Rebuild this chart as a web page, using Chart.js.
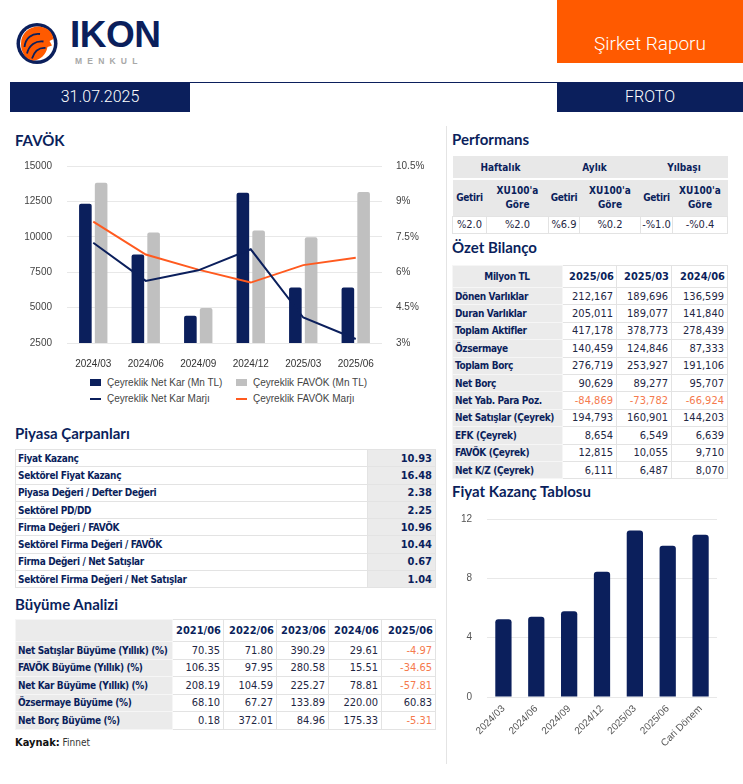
<!DOCTYPE html>
<html lang="tr">
<head>
<meta charset="utf-8">
<title>FROTO Şirket Raporu</title>
<script src="https://cdn.jsdelivr.net/npm/chart.js@4.4.1/dist/chart.umd.min.js"></script>
<style>
  html, body { margin: 0; padding: 0; background: #fff; }
  #page { position: relative; width: 743px; height: 784px; overflow: hidden; background: #fff; }
  .abs { position: absolute; }
  .navy { background: #0b1f5c; color: #fff; }
  .h-title { font-family: Lato, "Open Sans", sans-serif; font-weight: 700; font-size: 15px; color: #0b1f5c; }
  .box-text { font-family: Roboto, sans-serif; font-weight: 300; text-align: center; }
  table.t { position: absolute; border-collapse: collapse; table-layout: fixed;
            font-family: "DejaVu Sans Condensed", sans-serif; font-size: 11px; color: #0b1f5c; }
  table.t td { padding: 0 3px; white-space: nowrap; overflow: hidden; border: 1px solid #e3e3e3; }
  table.t td.lab { font-weight: 700; font-size: 10px; letter-spacing: -0.35px; padding-left: 2px; background: #ebebeb; border-color: #f6f6f6; }
  table.t td.num { text-align: right; color: #1f2744; }
  table.t td.neg { color: #f57a4d; }
  table.t td.hd { font-weight: 700; text-align: center; font-size: 10px; }
  table.t td.yr { font-weight: 700; text-align: right; font-size: 11px; padding-right: 2px; }
  .leg { position: absolute; font-family: "Liberation Sans", Arial, sans-serif; font-size: 10px; color: #444; white-space: nowrap; }
  .leg i { position: absolute; left: 0; }
</style>
</head>
<body>
<div id="page">
  <!-- logo -->
  <svg class="abs" style="left:14px;top:20px" width="48" height="48" viewBox="0 0 48 48">
    <circle cx="23" cy="23.5" r="20.5" fill="#0b1f5c"/>
    <circle cx="23" cy="23.5" r="17" fill="#fff"/>
    <path d="M7 24 C7 13 15 6.5 25 6.5 C33 7 38.5 12 39.5 19 L35.5 21 L38 25.5 L33.5 27 C32 35 26 40.5 19 40.5 C11 39 7 32 7 24 Z" fill="#ff5a00"/>
    <path d="M10.5 27 C11.5 18 18 13 26 14 M13 33.5 C15 25 21.5 20.5 29.5 21.5 M18 38.5 C20.5 31 25 27.5 31.5 28" stroke="#0b1f5c" stroke-width="1.8" fill="none"/>
  </svg>
  <div class="abs" style="left:70px;top:14px;font-family:'Liberation Sans',Arial,sans-serif;font-weight:700;font-size:37px;color:#0b1f5c;letter-spacing:-0.5px">IKON</div>
  <div class="abs" style="left:75px;top:56px;font-family:'Liberation Sans',Arial,sans-serif;font-weight:700;font-size:8.5px;color:#a8a8a8;letter-spacing:5.2px">MENKUL</div>

  <div class="abs" style="left:557px;top:0;width:186px;height:63px;background:#ff5a00"></div>
  <div class="abs box-text" style="left:557px;top:32px;width:186px;font-size:19px;color:#fff">Şirket Raporu</div>

  <div class="abs" style="left:10px;top:82px;width:733px;height:1px;background:#0b1f5c"></div>
  <div class="abs navy" style="left:10px;top:83px;width:180px;height:29px"></div>
  <div class="abs box-text" style="left:10px;top:87px;width:180px;font-size:16px;color:#fff">31.07.2025</div>
  <div class="abs navy" style="left:557px;top:83px;width:186px;height:29px"></div>
  <div class="abs box-text" style="left:557px;top:87px;width:186px;font-size:16px;color:#fff">FROTO</div>

  <div class="abs" style="left:446px;top:126px;width:1px;height:638px;background:#e4e4e4"></div>

  <div class="abs h-title" style="left:15px;top:131px">FAVÖK</div>
  <div class="abs" style="left:0;top:150px;width:440px;height:225px"><canvas id="favokChart"></canvas></div>
  <div id="favokLegend"></div>

  <div class="abs h-title" style="left:15px;top:424px">Piyasa Çarpanları</div>
  <table class="t" id="carpanTable" style="left:15px;top:449px;width:420px"></table>

  <div class="abs h-title" style="left:15px;top:595px">Büyüme Analizi</div>
  <table class="t" id="buyumeTable" style="left:15px;top:619px;width:420px"></table>
  <div class="abs" style="left:15px;top:736px;font-family:'DejaVu Sans Condensed',sans-serif;font-size:10px;color:#111"><b style="font-size:11px">Kaynak:</b> <span style="color:#333">Finnet</span></div>

  <div class="abs h-title" style="left:452px;top:130px">Performans</div>
  <table class="t" id="perfTable" style="left:452px;top:156px;width:275px"></table>

  <div class="abs h-title" style="left:452px;top:238px">Özet Bilanço</div>
  <table class="t" id="bilancoTable" style="left:452px;top:265px;width:275px"></table>

  <div class="abs h-title" style="left:452px;top:482px">Fiyat Kazanç Tablosu</div>
  <div class="abs" style="left:440px;top:505px;width:303px;height:265px"><canvas id="fkChart"></canvas></div>
</div>

<script>
// FAVÖK grafiği
const favokLabels = ['2024/03', '2024/06', '2024/09', '2024/12', '2025/03', '2025/06'];
const netKar = [12340, 8750, 4420, 13110, 6420, 6420];
const favok = [13820, 10300, 4970, 10440, 9970, 13160];
const netKarMarji = [7.25, 5.63, 6.08, 6.97, 4.08, 3.17];
const favokMarji = [8.14, 6.75, 6.11, 5.56, 6.30, 6.61];

// Fiyat Kazanç grafiği
const fkLabels = ['2024/03', '2024/06', '2024/09', '2024/12', '2025/03', '2025/06', 'Cari Dönem'];
const fkValues = [5.24, 5.41, 5.78, 8.44, 11.23, 10.20, 10.93];

// Tablolar
const perfGroups = ['Haftalık', 'Aylık', 'Yılbaşı'];
const perfValues = ['%2.0', '%2.0', '%6.9', '%0.2', '-%1.0', '-%0.4'];

const carpanLabels = ['Fiyat Kazanç', 'Sektörel Fiyat Kazanç', 'Piyasa Değeri / Defter Değeri', 'Sektörel PD/DD',
  'Firma Değeri / FAVÖK', 'Sektörel Firma Değeri / FAVÖK', 'Firma Değeri / Net Satışlar', 'Sektörel Firma Değeri / Net Satışlar'];
const carpanValues = ['10.93', '16.48', '2.38', '2.25', '10.96', '10.44', '0.67', '1.04'];

const bilancoYears = ['2025/06', '2025/03', '2024/06'];
const bilancoLabels = ['Dönen Varlıklar', 'Duran Varlıklar', 'Toplam Aktifler', 'Özsermaye', 'Toplam Borç', 'Net Borç',
  'Net Yab. Para Poz.', 'Net Satışlar (Çeyrek)', 'EFK (Çeyrek)', 'FAVÖK (Çeyrek)', 'Net K/Z (Çeyrek)'];
const bilanco2506 = ['212,167', '205,011', '417,178', '140,459', '276,719', '90,629', '-84,869', '194,793', '8,654', '12,815', '6,111'];
const bilanco2503 = ['189,696', '189,077', '378,773', '124,846', '253,927', '89,277', '-73,782', '160,901', '6,549', '10,055', '6,487'];
const bilanco2406 = ['136,599', '141,840', '278,439', '87,333', '191,106', '95,707', '-66,924', '144,203', '6,639', '9,710', '8,070'];

const buyumeYears = ['2021/06', '2022/06', '2023/06', '2024/06', '2025/06'];
const buyumeLabels = ['Net Satışlar Büyüme (Yıllık) (%)', 'FAVÖK Büyüme (Yıllık) (%)', 'Net Kar Büyüme (Yıllık) (%)',
  'Özsermaye Büyüme (%)', 'Net Borç Büyüme (%)'];
const buyume2021 = ['70.35', '106.35', '208.19', '68.10', '0.18'];
const buyume2022 = ['71.80', '97.95', '104.59', '67.27', '372.01'];
const buyume2023 = ['390.29', '280.58', '225.27', '133.89', '84.96'];
const buyume2024 = ['29.61', '15.51', '78.81', '220.00', '175.33'];
const buyume2025 = ['-4.97', '-34.65', '-57.81', '60.83', '-5.31'];

const NAVY = '#0b1f5c';
const GRAY = '#c0c0c0';
const ORANGE = '#ff5a1f';

function numCell(v) {
    return '<td class="num' + (v.charAt(0) === '-' ? ' neg' : '') + '">' + v + '</td>';
}
function colgroup(widths) {
    return '<colgroup>' + widths.map(w => '<col style="width:' + w + 'px">').join('') + '</colgroup>';
}

// Performans
(function () {
    let h = colgroup([34, 62, 31, 61, 32, 55]);
    h += '<tr style="height:23px">' + perfGroups.map(g =>
        '<td class="hd" colspan="2" style="background:#e8e8e8;border:0;border-bottom:2px solid #fff">' + g + '</td>').join('') + '</tr>';
    h += '<tr style="height:37px">';
    for (let i = 0; i < 3; i++) {
        h += '<td class="hd" style="background:#e8e8e8;border:0;padding:0;letter-spacing:-0.3px">Getiri</td>';
        h += '<td class="hd" style="background:#e8e8e8;border:0;line-height:14px">XU100\'a<br>Göre</td>';
    }
    h += '</tr><tr style="height:17px">' + perfValues.map(v =>
        '<td style="text-align:center;color:#1f2744;padding:0">' + v + '</td>').join('') + '</tr>';
    document.getElementById('perfTable').innerHTML = h;
})();

// Özet Bilanço
(function () {
    let h = colgroup([110, 54, 55, 56]);
    h += '<tr style="height:22px"><td class="lab" style="text-align:center">Milyon TL</td>' +
        bilancoYears.map(y => '<td class="yr">' + y + '</td>').join('') + '</tr>';
    bilancoLabels.forEach((l, i) => {
        h += '<tr style="height:17.4px"><td class="lab">' + l + '</td>' +
            numCell(bilanco2506[i]) + numCell(bilanco2503[i]) + numCell(bilanco2406[i]) + '</tr>';
    });
    document.getElementById('bilancoTable').innerHTML = h;
})();

// Piyasa Çarpanları
(function () {
    let h = colgroup([352, 68]);
    carpanLabels.forEach((l, i) => {
        h += '<tr style="height:17.3px"><td class="lab" style="background:#fff;border-color:#e3e3e3">' + l + '</td>' +
            '<td class="num" style="font-weight:700;background:#ebebeb;color:#0b1f5c">' + carpanValues[i] + '</td></tr>';
    });
    document.getElementById('carpanTable').innerHTML = h;
})();

// Büyüme Analizi
(function () {
    let h = colgroup([157, 51, 53, 52, 53, 54]);
    h += '<tr style="height:22px"><td class="lab"></td>' +
        buyumeYears.map(y => '<td class="yr">' + y + '</td>').join('') + '</tr>';
    buyumeLabels.forEach((l, i) => {
        h += '<tr style="height:17.5px"><td class="lab">' + l + '</td>' + numCell(buyume2021[i]) + numCell(buyume2022[i]) +
            numCell(buyume2023[i]) + numCell(buyume2024[i]) + numCell(buyume2025[i]) + '</tr>';
    });
    document.getElementById('buyumeTable').innerHTML = h;
})();

const tickFont = { family: "'Liberation Sans', Arial, sans-serif", size: 10 };

document.addEventListener('DOMContentLoaded', function () {
    const favokChart = new Chart(document.getElementById('favokChart'), {
        type: 'bar',
        data: {
            labels: favokLabels,
            datasets: [
                { label: 'Çeyreklik Net Kar (Mn TL)', data: netKar, backgroundColor: NAVY, yAxisID: 'y', order: 1,
                  barPercentage: 0.8, categoryPercentage: 0.6, borderRadius: 2 },
                { label: 'Çeyreklik FAVÖK (Mn TL)', data: favok, backgroundColor: GRAY, yAxisID: 'y', order: 1,
                  barPercentage: 0.8, categoryPercentage: 0.6, borderRadius: 2 },
                { type: 'line', label: 'Çeyreklik Net Kar Marjı', data: netKarMarji, borderColor: NAVY, backgroundColor: NAVY,
                  borderWidth: 2, pointRadius: 0, yAxisID: 'y1', order: 0 },
                { type: 'line', label: 'Çeyreklik FAVÖK Marjı', data: favokMarji, borderColor: ORANGE, backgroundColor: ORANGE,
                  borderWidth: 2, pointRadius: 0, yAxisID: 'y1', order: 0 }
            ]
        },
        options: {
            responsive: true,
            maintainAspectRatio: false,
            animation: false,
            layout: { padding: { top: 16, bottom: 0, left: 0, right: 0 } },
            plugins: { legend: { display: false }, tooltip: { enabled: false } },
            scales: {
                x: {
                    grid: { display: false, drawTicks: false },
                    border: { display: false },
                    ticks: { font: tickFont, color: '#333', padding: 15 },
                    afterFit: function (s) { s.height = 32; }
                },
                y: {
                    position: 'left', min: 2500, max: 15000,
                    grid: { color: '#e8e8e8', drawTicks: true, tickLength: 12, tickColor: 'rgba(0,0,0,0)' },
                    border: { display: false },
                    ticks: { stepSize: 2500, font: tickFont, color: '#444', padding: 3,
                             callback: function (v) { return String(v); } },
                    afterFit: function (s) { s.width = 67; }
                },
                y1: {
                    position: 'right', min: 3, max: 10.5,
                    grid: { display: false, drawTicks: true, tickLength: 11, tickColor: 'rgba(0,0,0,0)' },
                    border: { display: false },
                    ticks: { stepSize: 1.5, font: tickFont, color: '#444', padding: 3,
                             callback: function (v) { return v + '%'; } },
                    afterFit: function (s) { s.width = 58; }
                }
            }
        }
    });

    // HTML legend, 2 columns
    const legPos = [[90, 377], [236, 377], [90, 393], [236, 393]];
    let lh = '';
    favokChart.data.datasets.forEach((ds, i) => {
        const isLine = ds.type === 'line';
        const mark = isLine
            ? '<i style="top:5px;width:11px;height:2px;background:' + ds.borderColor + '"></i>'
            : '<i style="top:2px;width:11px;height:7px;background:' + ds.backgroundColor + '"></i>';
        lh += '<div class="leg" style="left:' + legPos[i][0] + 'px;top:' + legPos[i][1] + 'px;padding-left:17px">' + mark + ds.label + '</div>';
    });
    document.getElementById('favokLegend').innerHTML = lh;

    new Chart(document.getElementById('fkChart'), {
        type: 'bar',
        data: {
            labels: fkLabels,
            datasets: [{ label: 'Fiyat Kazanç', data: fkValues, backgroundColor: NAVY,
                         barPercentage: 0.9, categoryPercentage: 0.55, borderRadius: 3 }]
        },
        options: {
            responsive: true,
            maintainAspectRatio: false,
            animation: false,
            layout: { padding: { top: 14, right: 26, left: 0, bottom: 0 } },
            plugins: { legend: { display: false }, tooltip: { enabled: false } },
            scales: {
                x: {
                    grid: { display: false, drawTicks: false },
                    border: { display: false },
                    ticks: { font: tickFont, color: '#555', padding: 6, autoSkip: false, minRotation: 45, maxRotation: 45 },
                    afterFit: function (s) { s.height = 73; }
                },
                y: {
                    min: 0, max: 12,
                    grid: { color: '#e8e8e8', drawTicks: true, tickLength: 12, tickColor: 'rgba(0,0,0,0)' },
                    border: { display: false },
                    ticks: { stepSize: 4, font: tickFont, color: '#555', padding: 3 },
                    afterFit: function (s) { s.width = 47; }
                }
            }
        }
    });
});
</script>
</body>
</html>
